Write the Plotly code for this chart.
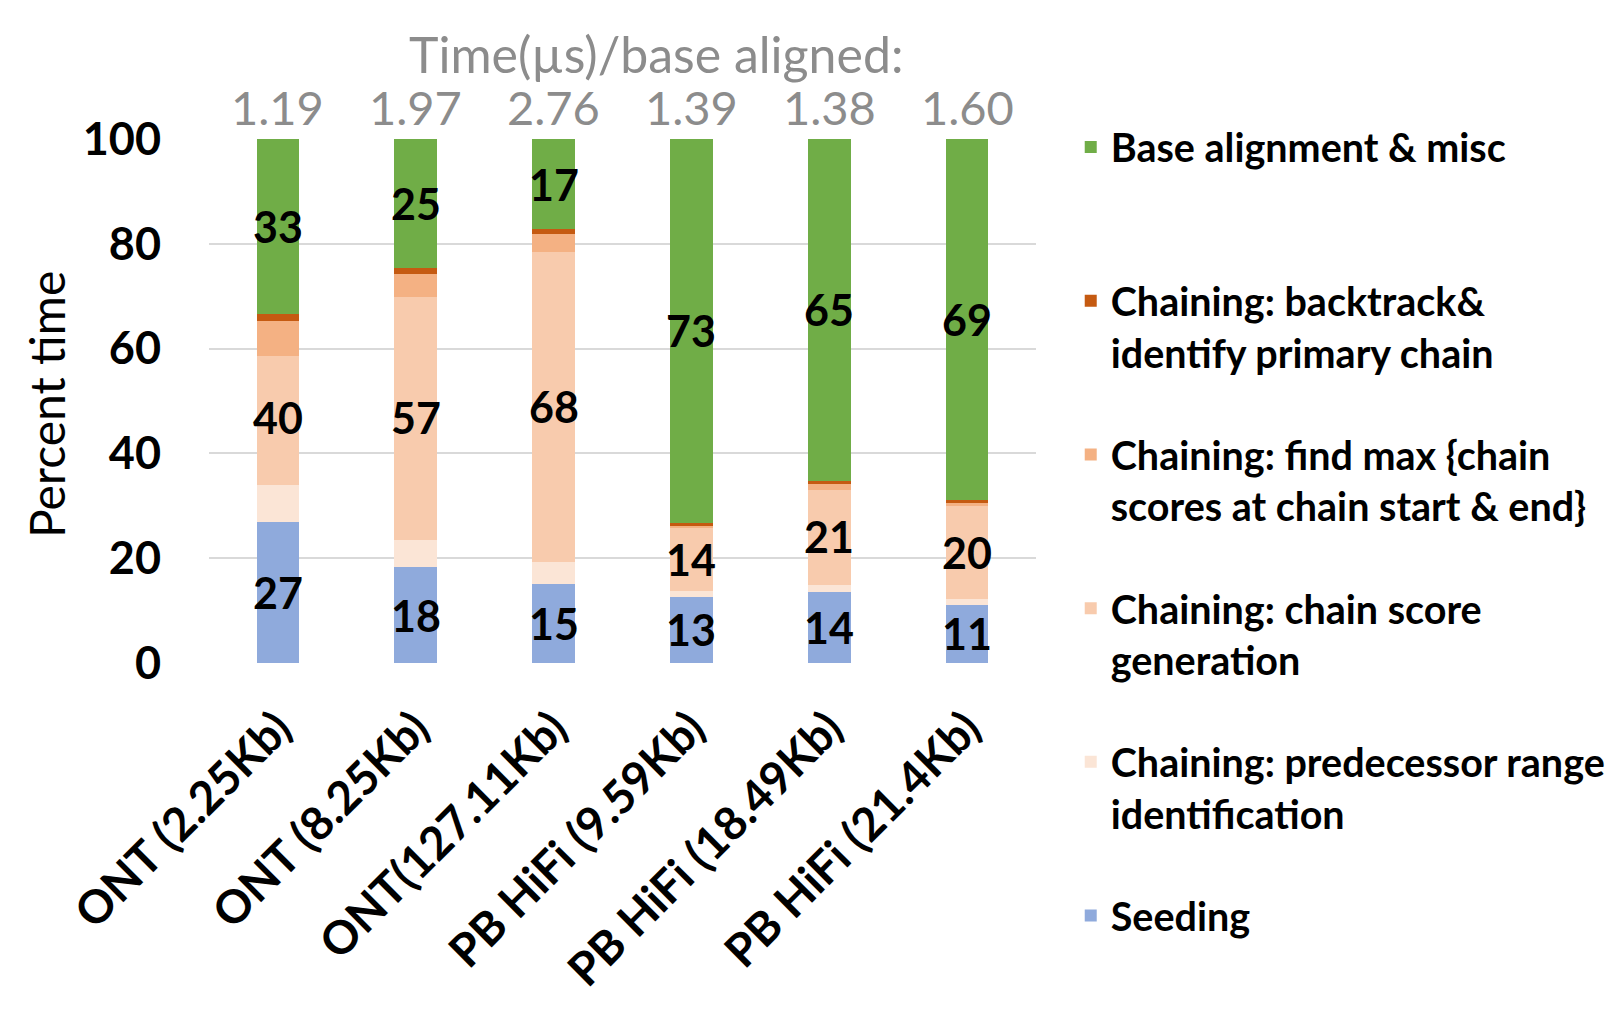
import plotly.graph_objects as go

categories = ["ONT (2.25Kb)", "ONT (8.25Kb)", "ONT(127.11Kb)",
              "PB HiFi (9.59Kb)", "PB HiFi (18.49Kb)", "PB HiFi (21.4Kb)"]
time_per_base = ["1.19", "1.97", "2.76", "1.39", "1.38", "1.60"]

seeding = [27.0, 18.3, 15.1, 12.6, 13.6, 11.1]
predecessor = [7.0, 5.2, 4.1, 1.1, 1.2, 1.2]
chain_score = [24.6, 46.4, 59.2, 12.0, 18.3, 17.7]
find_max = [6.6, 4.3, 3.4, 0.5, 1.0, 0.5]
backtrack = [1.4, 1.1, 1.0, 0.6, 0.7, 0.6]
base_align = [33.4, 24.7, 17.2, 73.2, 65.2, 68.9]

series_names = [
    "Seeding",
    "Chaining: predecessor range<br>identification",
    "Chaining: chain score<br>generation",
    "Chaining: find max {chain<br>scores at chain start & end}",
    "Chaining: backtrack&<br>identify primary chain",
    "Base alignment & misc<br> ",
]
series_values = [seeding, predecessor, chain_score, find_max, backtrack, base_align]
series_colors = ["#8FAADC", "#FBE5D6", "#F8CBAD", "#F4B183", "#C55A11", "#70AD47"]

FONT = "Lato"

fig = go.Figure()
n = len(series_names)
for i, (name, vals, col) in enumerate(zip(series_names, series_values, series_colors)):
    fig.add_trace(go.Bar(
        x=categories, y=vals, name=name, marker=dict(color=col, line=dict(width=0)),
        legendgroup=f"g{i}", legendrank=n - i, hoverinfo="skip",
    ))

annotations = []
# Value labels: seeding, chaining total, base alignment
for j, cat in enumerate(categories):
    s = seeding[j]
    ch = predecessor[j] + chain_score[j] + find_max[j] + backtrack[j]
    b = base_align[j]
    for val, ycenter in [(s, s / 2), (ch, s + ch / 2), (b, s + ch + b / 2)]:
        annotations.append(dict(
            x=cat, y=ycenter, xref="x", yref="y", text=str(int(round(val))),
            showarrow=False, font=dict(family=FONT, size=43, color="black", weight="bold"),
        ))
    annotations.append(dict(
        x=cat, y=1.061, xref="x", yref="paper", text=time_per_base[j],
        showarrow=False, yanchor="middle",
        font=dict(family=FONT, size=47, color="#8C8C8C"),
    ))

annotations.append(dict(
    x=0.54, y=1.163, xref="paper", yref="paper", text="Time(µs)/base aligned:",
    showarrow=False, yanchor="middle",
    font=dict(family=FONT, size=50, color="#8C8C8C"),
))
annotations.append(dict(
    x=-0.1965, y=0.495, xref="paper", yref="paper", text="Percent time",
    textangle=-90, showarrow=False, xanchor="center", yanchor="middle",
    font=dict(family=FONT, size=48, color="black"),
))

fig.update_layout(
    width=1612, height=1007,
    margin=dict(l=201, r=584, t=131, b=352, autoexpand=False),
    barmode="stack", bargap=0.69,
    plot_bgcolor="white", paper_bgcolor="white",
    font=dict(family=FONT, color="black"),
    showlegend=True,
    legend=dict(
        x=1.042, y=1.046, xanchor="left", yanchor="top",
        traceorder="grouped", tracegroupgap=48, valign="top", maxheight=960,
        font=dict(family=FONT, size=39.5, color="black", weight="bold"),
        bgcolor="rgba(0,0,0,0)",
    ),
    annotations=annotations,
)
fig.update_yaxes(
    range=[0, 100], tickvals=[0, 20, 40, 60, 80, 100], automargin=False,
    showgrid=True, gridcolor="#D9D9D9", gridwidth=1.5, zeroline=False,
    showline=False, ticks="", ticklabelstandoff=47,
    tickfont=dict(family=FONT, size=45, color="black", weight="bold"),
)
fig.update_xaxes(
    tickangle=-45, showline=False, ticks="", ticklabelstandoff=28, automargin=False,
    tickfont=dict(family=FONT, size=46, color="black", weight="bold"),
)

fig.write_html("out.html")
